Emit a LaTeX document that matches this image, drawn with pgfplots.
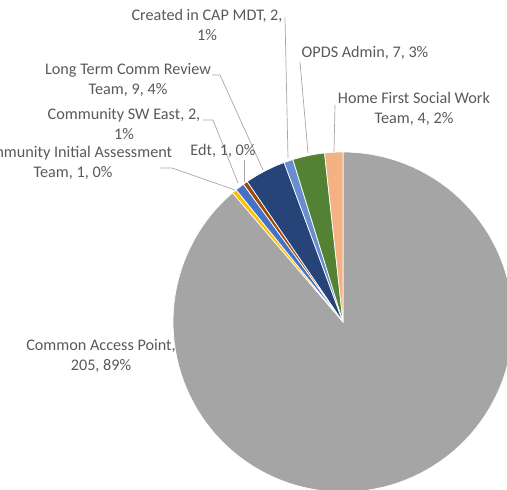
\documentclass[border=0pt]{standalone}
\usepackage{pgfplots}
\pgfplotsset{compat=1.18}
\usepackage{fontspec}
\setmainfont{Carlito}

\definecolor{capgray}{HTML}{A5A5A5}
\definecolor{ciayellow}{HTML}{FFC000}
\definecolor{cseblue}{HTML}{4472C4}
\definecolor{edtbrown}{HTML}{9E480E}
\definecolor{ltnavy}{HTML}{264478}
\definecolor{mdtblue}{HTML}{698ED0}
\definecolor{opdsgreen}{HTML}{548235}
\definecolor{hfpeach}{HTML}{F4B183}
\definecolor{labelgray}{HTML}{595959}
\definecolor{leader}{HTML}{A6A6A6}

\tikzset{
  lbl/.style={text=labelgray, align=center, inner sep=0pt,
    font=\fontsize{16.2bp}{19.5bp}\selectfont},
  ldr/.style={leader, line width=0.7pt},
}

% pie slices, clockwise from 12 o'clock; total = 231
\newcommand\total{231}
\gdef\cum{0}
\newcommand\slice[2]{%
  \pgfmathsetmacro\sa{90-(\cum/\total)*360}%
  \pgfmathparse{\cum+#1}\xdef\cum{\pgfmathresult}%
  \pgfmathsetmacro\sb{90-(\cum/\total)*360}%
  \edef\next{\noexpand\addplot[fill=#2, draw=white, line width=0.7pt,
    line join=round, domain=\sb:\sa, samples=120]
    ({170*cos(x)}, {170*sin(x)}) -- (0,0) -- cycle;}%
  \next}

\begin{document}
\begin{tikzpicture}
\begin{axis}[
  scale only axis, width=507bp, height=490bp,
  xmin=-343, xmax=164, ymin=-168, ymax=322,
  hide axis, clip=true,
]
\coordinate (bl) at (rel axis cs:0,0);
\coordinate (tr) at (rel axis cs:1,1);
\slice{205}{capgray}
\slice{1}{ciayellow}
\slice{2}{cseblue}
\slice{1}{edtbrown}
\slice{9}{ltnavy}
\slice{2}{mdtblue}
\slice{7}{opdsgreen}
\slice{4}{hfpeach}

% leader lines
\draw[ldr] (-58,304) -- (-55,164);
\draw[ldr] (-43,260) -- (-35,169);
\draw[ldr] (-131,247) -- (-123,247) -- (-80,152);
\draw[ldr] (-8,217) -- (-9,170);
\draw[ldr] (-140,202) -- (-130,202) -- (-105,139);
\draw[ldr] (-99,162) -- (-99,140);
\draw[ldr] (-183,154) -- (-171,154) -- (-108,132);

% data labels
\node[lbl] at (-136,297) {Created in CAP MDT, 2,\\1\%};
\node[lbl] at (22,269) {OPDS Admin, 7, 3\%};
\node[lbl] at (-215,242) {Long Term Comm Review\\Team, 9, 4\%};
\node[lbl] at (71,213) {Home First Social Work\\Team, 4, 2\%};
\node[lbl] at (-219,198) {Community SW East, 2,\\1\%};
\node[lbl] at (-120,171) {Edt, 1, 0\%};
\node[lbl] at (-270,159) {Community Initial Assessment\\Team, 1, 0\%};
\node[lbl] at (-242,-34) {Common Access Point,\\205, 89\%};
\end{axis}
\pgfresetboundingbox
\path[use as bounding box] (bl) rectangle (tr);
\end{tikzpicture}
\end{document}
